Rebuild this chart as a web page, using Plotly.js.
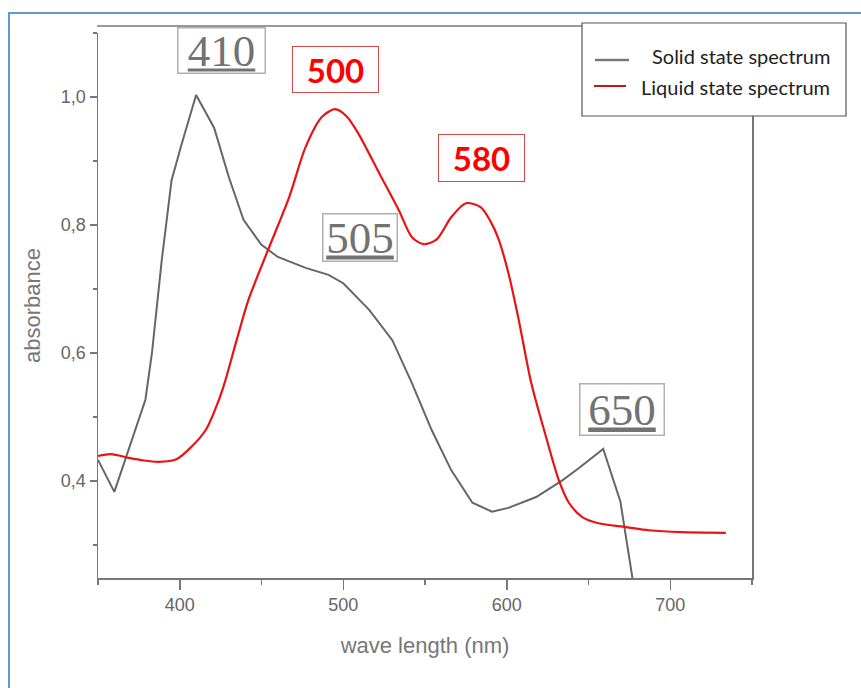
<!DOCTYPE html>
<html>
<head>
<meta charset="utf-8">
<script src="https://cdn.plot.ly/plotly-3.0.1.min.js"></script>
<style>html,body{margin:0;padding:0;background:#fff;}#chart{width:861px;height:688px;}</style>
</head>
<body>
<div id="chart"></div>
<script>
// Solid state spectrum (grey)
var solidWavelength = [350, 360, 379, 383, 389, 395, 401, 410, 421, 430, 439, 450, 460, 477, 491, 500, 516, 530, 542, 554, 566, 579, 591, 601, 618, 634, 644, 659, 669.5, 676.5, 678];
var solidAbsorbance = [0.433, 0.383, 0.527, 0.600, 0.745, 0.870, 0.925, 1.003, 0.952, 0.875, 0.808, 0.769, 0.750, 0.733, 0.722, 0.709, 0.667, 0.620, 0.553, 0.480, 0.417, 0.366, 0.352, 0.358, 0.375, 0.401, 0.420, 0.450, 0.368, 0.250, 0.230];

// Liquid state spectrum (red)
var liquidWavelength = [350, 358, 369, 378, 387, 398, 407, 416, 424, 428, 435, 442, 454, 467, 477, 487, 495, 502, 509, 522, 534, 542, 549, 557, 566, 575, 584, 590, 595, 601, 607, 615, 624, 632, 638, 646, 656, 673, 687, 707, 734];
var liquidAbsorbance = [0.439, 0.442, 0.436, 0.432, 0.430, 0.434, 0.453, 0.480, 0.527, 0.558, 0.622, 0.683, 0.761, 0.844, 0.922, 0.969, 0.981, 0.970, 0.944, 0.881, 0.823, 0.781, 0.770, 0.777, 0.812, 0.834, 0.828, 0.806, 0.778, 0.725, 0.656, 0.553, 0.469, 0.400, 0.366, 0.344, 0.334, 0.328, 0.323, 0.320, 0.319];

// Peak labels
var solidPeakLabels = ['410', '505', '650'];
var liquidPeakLabels = ['500', '580'];
var seriesNames = ['Solid state spectrum', 'Liquid state spectrum'];
var axisTitles = {x: 'wave length (nm)', y: 'absorbance'};

var traces = [
  {x: solidWavelength, y: solidAbsorbance, type: 'scatter', mode: 'lines', name: seriesNames[0],
   line: {color: '#666666', width: 2}},
  {x: liquidWavelength, y: liquidAbsorbance, type: 'scatter', mode: 'lines', name: seriesNames[1],
   line: {color: 'rgb(232,20,20)', width: 2.2, shape: 'spline', smoothing: 0.8}}
];

function px2x(px){ return (px - 98) / 654; }
function px2y(py){ return (578 - py) / 545; }

var greyBox = {font: {family: 'Liberation Serif', size: 45, color: '#727272', lineposition: 'under'},
  bordercolor: '#b0b0b0', borderwidth: 1.5, borderpad: 1, bgcolor: 'rgba(255,255,255,0)', showarrow: false,
  xref: 'x', yref: 'y', xanchor: 'center', yanchor: 'middle'};
var redBox = {font: {family: 'Lato', size: 33, color: '#ff0000', weight: 'bold'},
  bordercolor: '#d04848', borderwidth: 1, borderpad: 1, bgcolor: 'rgba(255,255,255,0)', showarrow: false,
  xref: 'x', yref: 'y', xanchor: 'center', yanchor: 'middle'};

function mk(base, extra){ var o = JSON.parse(JSON.stringify(base)); for (var k in extra) o[k] = extra[k]; return o; }

var annotations = [
  mk(greyBox, {text: solidPeakLabels[0], x: 425.7, y: 1.072, width: 84, height: 42}),
  mk(greyBox, {text: solidPeakLabels[1], x: 510.4, y: 0.780, width: 71, height: 44}),
  mk(greyBox, {text: solidPeakLabels[2], x: 670.3, y: 0.512, width: 81, height: 48}),
  mk(redBox, {text: '<b>' + liquidPeakLabels[0] + '</b>', x: 495.1, y: 1.043, width: 83, height: 43}),
  mk(redBox, {text: '<b>' + liquidPeakLabels[1] + '</b>', x: 584.4, y: 0.905, width: 83, height: 44}),
  {text: seriesNames[0], xref: 'paper', yref: 'paper', x: px2x(832), y: px2y(56), xanchor: 'right', yanchor: 'middle',
   showarrow: false, font: {family: 'Lato', size: 20, color: '#222'}},
  {text: seriesNames[1], xref: 'paper', yref: 'paper', x: px2x(832), y: px2y(87), xanchor: 'right', yanchor: 'middle',
   showarrow: false, font: {family: 'Lato', size: 20, color: '#222'}}
];

var shapes = [
  // outer blue frame
  {type: 'rect', xref: 'paper', yref: 'paper', x0: px2x(9), x1: px2x(880), y0: px2y(720), y1: px2y(13),
   line: {color: '#5b9bd5', width: 2}, fillcolor: 'rgba(0,0,0,0)', layer: 'below'},
  // top frame line
  {type: 'line', xref: 'paper', yref: 'paper', x0: px2x(97), x1: px2x(752), y0: px2y(26), y1: px2y(26),
   line: {color: '#777', width: 1.5}},
  // legend box
  {type: 'rect', xref: 'paper', yref: 'paper', x0: px2x(582), x1: px2x(846), y0: px2y(116), y1: px2y(23),
   line: {color: '#555', width: 1.2}, fillcolor: '#ffffff', layer: 'above'},
  {type: 'line', xref: 'paper', yref: 'paper', x0: px2x(595), x1: px2x(629), y0: px2y(60), y1: px2y(60),
   line: {color: '#777', width: 2.5}, layer: 'above'},
  {type: 'line', xref: 'paper', yref: 'paper', x0: px2x(594), x1: px2x(626), y0: px2y(86), y1: px2y(86),
   line: {color: 'rgb(200,20,20)', width: 2}, layer: 'above'}
];

var layout = {
  width: 861, height: 688,
  margin: {l: 98, r: 109, t: 33, b: 110, pad: 0},
  paper_bgcolor: '#ffffff', plot_bgcolor: '#ffffff',
  showlegend: false,
  separators: ', ',
  font: {family: 'Liberation Sans', color: '#666'},
  xaxis: {
    range: [350, 750], showgrid: false, zeroline: false,
    showline: true, linecolor: '#777', linewidth: 1.5,
    ticks: 'outside', ticklen: 10, tickwidth: 1.5, tickcolor: '#777',
    tick0: 0, dtick: 100,
    tickfont: {family: 'Liberation Sans', size: 18, color: '#666'},
    minor: {ticks: 'outside', dtick: 50, ticklen: 5, tickwidth: 1.5, tickcolor: '#777'},
    title: {text: axisTitles.x, font: {family: 'Liberation Sans', size: 22, color: '#777'}, standoff: 23}
  },
  yaxis: {
    range: [0.2484, 1.1], showgrid: false, zeroline: false,
    showline: true, mirror: true, linecolor: '#777', linewidth: 1.5,
    ticks: 'outside', ticklen: 7, tickwidth: 1.5, tickcolor: '#777',
    tick0: 0, dtick: 0.2, tickformat: '.1f',
    tickfont: {family: 'Liberation Sans', size: 18, color: '#666'},
    minor: {ticks: 'outside', dtick: 0.1, ticklen: 4, tickwidth: 1.5, tickcolor: '#777'},
    title: {text: axisTitles.y, font: {family: 'Liberation Sans', size: 22, color: '#777'}, standoff: 14}
  },
  shapes: shapes,
  annotations: annotations
};

Plotly.newPlot('chart', traces, layout, {staticPlot: true, displayModeBar: false});
</script>
</body>
</html>
